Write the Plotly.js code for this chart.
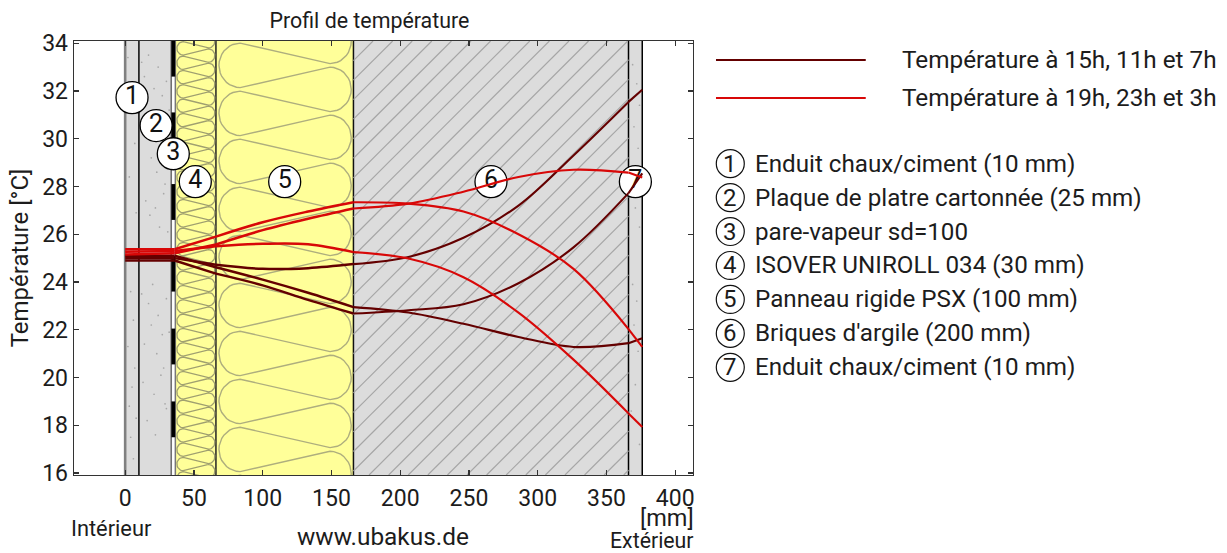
<!DOCTYPE html>
<html><head><meta charset="utf-8">
<script src="https://cdn.plot.ly/plotly-3.0.1.min.js"></script>
<style>html,body{margin:0;padding:0;background:#fff}</style></head>
<body><div id="chart" style="width:1227px;height:553px"></div>
<script>
// ---------- data ----------
const layerEdges = [0, 10, 33.5, 36.5, 66, 166, 366, 376];
const hatchFrom = 166, hatchTo = 366;
const yTicks = [16,18,20,22,24,26,28,30,32,34];
const xTicks = [0,50,100,150,200,250,300,350,400];

const depth = [0,36,66,100,133,166,206,246,286,326,366,376];
const darkA = [25.0,25.0,24.72,24.55,24.58,24.75,25.05,25.85,27.2,29.3,31.54,32.05];
const darkB = [24.9,24.9,24.35,23.86,23.25,22.68,22.82,23.07,23.95,25.45,27.72,28.55];
const darkC = [25.1,25.1,24.62,24.1,23.55,22.95,22.72,22.25,21.7,21.28,21.44,21.65];
const redD  = [25.37,25.37,25.9,26.5,26.95,27.34,27.28,26.95,26.0,24.55,22.03,21.28];
const redE  = [25.15,25.2,25.57,26.17,26.65,27.08,27.28,27.78,28.4,28.7,28.58,28.38];
const redF  = [25.27,25.3,25.5,25.6,25.58,25.25,24.98,24.2,22.72,20.75,18.5,17.93];
const kinks = [0,1,2,5,10,11]; // indices in depth where material changes

const bubbleX = [5,22.5,35,51,116,266,371];
const bubbleY = [31.72,30.55,29.37,28.2,28.2,28.2,28.2];
const bubbleText = ['1','2','3','4','5','6','7'];

const vaporTop = [34.1,31.1,28.1,25.1,22.05,19.0];
const vaporBottom = [32.6,29.6,26.6,23.6,20.55,17.5];

const speckX = [12,14,17,21,24,27,30,32,13,16,19,23,26,29,31,15,18,22,25,28,31,12,17,20,24,27,30,14,19,23,28,32,13,21,26,30,16,22,29,
  2,5,7,3,8,4,6,2,7,5,3,8,4,6,
  369,372,374,370,373,368,371,374,369,372,370,373,371,368,374];
const speckY = [33.2,32.6,33.5,32.1,33.0,31.8,32.4,31.2,30.6,31.0,29.2,28.6,29.8,28.1,29.4,27.4,26.8,27.1,26.3,27.7,26.1,23.5,23.1,23.9,22.6,21.8,23.3,21.4,22.2,21.0,20.4,21.9,19.8,19.3,20.1,18.7,18.2,17.6,18.9,
  33.4,31.9,29.8,28.4,26.9,23.6,22.4,21.3,20.4,19.6,18.8,18.3,17.5,16.6,
  33.1,32.3,31.4,30.5,29.6,27.8,27.1,26.3,23.9,23.2,22.2,21.1,19.7,18.6,17.2];

const legendLabels = ['Température à 15h, 11h et 7h','Température à 19h, 23h et 3h'];
const layerLabels = ['Enduit chaux/ciment (10 mm)','Plaque de platre cartonnée (25 mm)','pare-vapeur sd=100',
  'ISOVER UNIROLL 034 (30 mm)','Panneau rigide PSX (100 mm)',"Briques d'argile (200 mm)",'Enduit chaux/ciment (10 mm)'];

// ---------- frame ----------
const W=1227,H=553,L=73.5,R=692.7,T=40.7,B=475.3;
const xr=[-37.2,412.9], yr=[15.92,34.09];
const px=v=>(v-L)/(R-L), py=v=>(B-v)/(B-T);
const FONT='Roboto, sans-serif', INK='#1c1c1c', DARK='#640000', RED='#d80808';

// ---------- decorative helpers ----------
function serpentine(xL,xR,rx,ry,yStart,period,n){ // mineral wool symbol
  const xs=[],ys=[];
  for(let k=0;k<n;k++){
    const cl=yStart-k*period, cr=cl-period/2;
    for(let a=90;a<=270;a+=10){xs.push(xL+rx*Math.cos(a*Math.PI/180));ys.push(cl+ry*Math.sin(a*Math.PI/180));}
    for(let a=90;a>=-90;a-=10){xs.push(xR+rx*Math.cos(a*Math.PI/180));ys.push(cr+ry*Math.sin(a*Math.PI/180));}
  }
  return {xs,ys};
}
function hatch(x0,x1,stepPx){
  const kx=1.3758, ky=23.95, xs=[],ys=[];
  for(let c=x0-(yr[1]-yr[0])*ky/kx; c<x1; c+=stepPx/kx){
    let ya=yr[0], xa=c;
    if(xa<x0){ya=yr[0]+(x0-c)*kx/ky;xa=x0;}
    let yb=yr[1], xb=c+(yr[1]-yr[0])*ky/kx;
    if(xb>x1){yb=yr[0]+(x1-c)*kx/ky;xb=x1;}
    if(ya<yb){xs.push(xa,xb,null);ys.push(ya,yb,null);}
  }
  return {xs,ys};
}
const wool5=serpentine(83.6,149,15.4,0.93,35.08,2.01,11);
const wool4=serpentine(42.2,60.6,4.6,0.28,34.38,0.6,33);
const hat=hatch(hatchFrom,hatchTo,19.6);
const vapX=[],vapY=[];
vaporTop.forEach((t,i)=>{vapX.push(35,35,null);vapY.push(t,vaporBottom[i],null);});

const deco=[
 {x:hat.xs,y:hat.ys,mode:'lines',line:{color:'#a6a6a6',width:1.2}},
 {x:wool5.xs,y:wool5.ys,mode:'lines',line:{color:'#aeae7e',width:1.4}},
 {x:wool4.xs,y:wool4.ys,mode:'lines',line:{color:'#a0a070',width:1.3}},
 {x:speckX,y:speckY,mode:'markers',marker:{size:1.7,color:'#a8a8a8'}},
 {x:vapX,y:vapY,mode:'lines',line:{color:'#000',width:3.8}},
 {x:bubbleX,y:bubbleY,text:bubbleText,mode:'markers+text',textposition:'middle center',
  textfont:{family:FONT,size:25,color:'#111'},marker:{size:32,color:'#fff',line:{color:'#000',width:1.3}}}
];
const temp=[];
[[darkA,DARK],[darkB,DARK],[darkC,DARK],[redD,RED],[redE,RED],[redF,RED]].forEach(([vals,c])=>{
  for(let i=0;i<kinks.length-1;i++){
    const a=kinks[i], b=kinks[i+1]+1;
    temp.push({x:depth.slice(a,b),y:vals.slice(a,b),mode:'lines',
      line:{color:c,width:a<5?2.5:2.1,shape:'spline',smoothing:1}});
  }
});
const traces=deco.concat(temp).map(t=>Object.assign(t,{showlegend:false,hoverinfo:'skip'}));

// ---------- layers ----------
const fills=['#dcdcdc','#dcdcdc','#ffffff','#ffff99','#ffff99','#dcdcdc','#dcdcdc'];
const shapes=[];
fills.forEach((f,i)=>shapes.push({type:'rect',layer:'below',xref:'x',yref:'y',x0:layerEdges[i],x1:layerEdges[i+1],y0:yr[0],y1:yr[1],fillcolor:f,line:{width:0}}));
const edgeStyle=[['#808080',2.6],['#111',1.6],['#707070',1.6],['#777',1.5],['#222',1.5],['#111',1.5],['#000',1.5],['#000',1.5]];
layerEdges.forEach((e,i)=>shapes.push({type:'line',layer:'below',xref:'x',yref:'y',x0:e,x1:e,y0:yr[0],y1:yr[1],line:{color:edgeStyle[i][0],width:edgeStyle[i][1]}}));

const ann=[];
function label(text,x,y,size,anchor){ann.push({text,xref:'paper',yref:'paper',x:px(x),y:py(y),xanchor:anchor||'left',yanchor:'middle',showarrow:false,
  font:{family:FONT,size,color:INK},borderpad:0,align:anchor||'left'});}
[59.7,97.7].forEach((y,i)=>{
  shapes.push({type:'line',xref:'paper',yref:'paper',x0:px(715.7),x1:px(865.5),y0:py(y),y1:py(y),line:{color:i?RED:DARK,width:2}});
  label(legendLabels[i],901,y,24.3);
});
layerLabels.forEach((t,i)=>{
  const y=163.5+i*34;
  shapes.push({type:'circle',xref:'paper',yref:'paper',x0:px(716),x1:px(744),y0:py(y+14),y1:py(y-14),line:{color:'#111',width:1.2},fillcolor:'rgba(0,0,0,0)'});
  label(bubbleText[i],730,y,24,'center');
  label(t,754,y,24.2);
});
label('Intérieur',69,529,21.8);
label('www.ubakus.de',296,537,24.4);
label('[mm]',694.5,518,23.5,'right');
label('Extérieur',694.5,541,21.3,'right');

const axis={showgrid:false,zeroline:false,ticks:'inside',ticklen:5,tickwidth:1.3,tickcolor:'#333',showline:true,linecolor:'#333',linewidth:1.4,mirror:'ticks',
  tickfont:{family:FONT,size:23,color:INK},tickmode:'array'};
Plotly.newPlot('chart',traces,{
  width:W,height:H,showlegend:false,paper_bgcolor:'#fff',plot_bgcolor:'#fff',
  margin:{l:L,r:W-R,t:T,b:H-B,pad:0},
  title:{text:'Profil de température',font:{family:FONT,size:21.4,color:INK},xref:'container',yref:'container',x:369.5/W,xanchor:'center',y:1-21/H,yanchor:'middle'},
  xaxis:Object.assign({},axis,{range:xr,tickvals:xTicks,ticktext:xTicks.map(String),ticklabelstandoff:2}),
  yaxis:Object.assign({},axis,{range:yr,tickvals:yTicks,ticktext:yTicks.map(String),title:{text:'Température [°C]',font:{family:FONT,size:24,color:INK},standoff:6}}),
  shapes,annotations:ann
},{staticPlot:true,displayModeBar:false});
</script></body></html>
